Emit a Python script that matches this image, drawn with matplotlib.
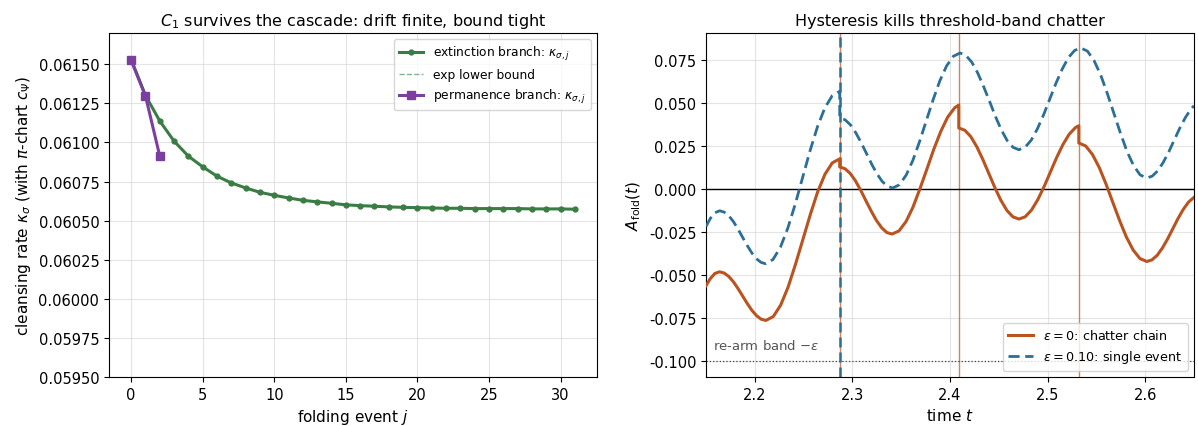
import numpy as np
import matplotlib
matplotlib.use("Agg")
import matplotlib.pyplot as plt
from matplotlib.ticker import FormatStrFormatter

# ---- left panel: cleansing rate per folding event ----
j_ext = list(range(32))
kappa_ext = [0.06153, 0.06130, 0.061137, 0.061008, 0.060912, 0.060844, 0.060784,
             0.060741, 0.060709, 0.060681, 0.060662, 0.060645, 0.060630, 0.060620,
             0.060611, 0.060601, 0.060596, 0.060592, 0.060588, 0.060585, 0.060583,
             0.060581, 0.060579, 0.060579, 0.060577, 0.060577, 0.060577, 0.060577,
             0.060575, 0.060575, 0.060575, 0.060573]
kappa_bound = kappa_ext
j_perm = [0, 1, 2]
kappa_perm = [0.061525, 0.061297, 0.060912]

# ---- right panel: fold amplitude over time ----
# eps = 0 (chatter chain); repeated times mark the resets
t_chat = [2.15, 2.1542, 2.159,
          2.1638, 2.1686, 2.1733, 2.1781, 2.1828, 2.1876, 2.1924, 2.1971, 2.2019, 2.2066,
          2.2114, 2.219, 2.2265, 2.2341, 2.2416, 2.2492, 2.2568, 2.2643, 2.2719, 2.2794, 2.287,
          2.287, 2.2924, 2.2977, 2.3031, 2.3084, 2.3138, 2.3192, 2.3245, 2.3299, 2.3352,
          2.3406, 2.3477, 2.3549, 2.362, 2.3692, 2.3763, 2.3834, 2.3906, 2.3977, 2.4049, 2.409,
          2.409, 2.4152, 2.4213, 2.4275, 2.4336, 2.4398, 2.446, 2.4521, 2.4583, 2.4644,
          2.4706, 2.477, 2.4835, 2.4899, 2.4964, 2.5028, 2.5092, 2.5157, 2.5221, 2.5286, 2.532,
          2.532, 2.539, 2.5459, 2.5529, 2.5598, 2.5668, 2.5738, 2.5807, 2.5877, 2.5946,
          2.6016, 2.6069, 2.6123, 2.6176, 2.623, 2.6283, 2.6336, 2.639, 2.6443, 2.65]
a_chat = [-0.0561, -0.0521, -0.0490,
          -0.0480, -0.0487, -0.0507, -0.0538, -0.0577, -0.0621, -0.0665, -0.0704, -0.0735, -0.0755,
          -0.0762, -0.0739, -0.0673, -0.0569, -0.0438, -0.0294, -0.0149, -0.0018, 0.0086, 0.0152, 0.0175,
          0.0128, 0.0118, 0.0091, 0.0048, -0.0006, -0.0067, -0.0127, -0.0181, -0.0224, -0.0252,
          -0.0261, -0.0243, -0.0189, -0.0106, 0.0002, 0.0115, 0.0231, 0.0335, 0.0418, 0.0472, 0.0487,
          0.0354, 0.0341, 0.0304, 0.0245, 0.0172, 0.0090, 0.0008, -0.0065, -0.0124, -0.0161,
          -0.0174, -0.0161, -0.0122, -0.0062, 0.0014, 0.0098, 0.0182, 0.0258, 0.0318, 0.0357, 0.0367,
          0.0267, 0.0250, 0.0201, 0.0125, 0.0030, -0.0077, -0.0183, -0.0278, -0.0354, -0.0403,
          -0.0420, -0.0411, -0.0384, -0.0342, -0.0289, -0.0230, -0.0171, -0.0118, -0.0076, -0.0048]

# eps = 0.10 (single event)
t_single = [2.15, 2.1546, 2.1593,
            2.164, 2.1687, 2.1734, 2.1781, 2.1828, 2.1875, 2.1922, 2.1969, 2.2016, 2.2063,
            2.211, 2.2186, 2.2262, 2.2338, 2.2414, 2.249, 2.2566, 2.2642, 2.2718, 2.2794, 2.287,
            2.287, 2.2924, 2.2979, 2.3033, 2.3087, 2.3142, 2.3196, 2.325, 2.3304, 2.3359,
            2.3413, 2.3482, 2.3551, 2.362, 2.3689, 2.3758, 2.3827, 2.3896, 2.3965, 2.4034,
            2.4103, 2.4163, 2.4224, 2.4284, 2.4344, 2.4405, 2.4465, 2.4525, 2.4585, 2.4646,
            2.4706, 2.4769, 2.4833, 2.4896, 2.496, 2.5023, 2.5086, 2.515, 2.5213, 2.5277,
            2.534, 2.5408, 2.5475, 2.5543, 2.561, 2.5678, 2.5746, 2.5813, 2.5881, 2.5948,
            2.6016, 2.6072, 2.6129, 2.6185, 2.6242, 2.6298, 2.6354, 2.6411, 2.6467, 2.65]
a_single = [-0.0217, -0.0169, -0.0137,
            -0.0126, -0.0134, -0.0155, -0.0189, -0.0232, -0.0280, -0.0327, -0.0370, -0.0404, -0.0425,
            -0.0433, -0.0409, -0.0338, -0.0227, -0.0088, 0.0067, 0.0222, 0.0361, 0.0471, 0.0542, 0.0567,
            0.0412, 0.0402, 0.0373, 0.0328, 0.0272, 0.0209, 0.0146, 0.0090, 0.0045, 0.0016,
            0.0006, 0.0025, 0.0081, 0.0167, 0.0277, 0.0398, 0.0518, 0.0628, 0.0714, 0.0770,
            0.0789, 0.0775, 0.0735, 0.0673, 0.0595, 0.0509, 0.0422, 0.0344, 0.0282, 0.0242,
            0.0228, 0.0242, 0.0284, 0.0350, 0.0432, 0.0523, 0.0614, 0.0696, 0.0762, 0.0804,
            0.0818, 0.0800, 0.0746, 0.0663, 0.0557, 0.0441, 0.0325, 0.0219, 0.0136, 0.0082,
            0.0064, 0.0075, 0.0106, 0.0155, 0.0216, 0.0285, 0.0353, 0.0414, 0.0463, 0.0483]

chatter_events = [2.287, 2.409, 2.532]
single_events = [2.287]
eps_band = 0.10

C_GREEN = "#3a7d44"
C_PURPLE = "#7b3fa0"
C_ORANGE = "#b9531f"
C_BLUE = "#2b6f96"

fig = plt.figure(figsize=(11.98, 4.27), dpi=100)
ax1 = fig.add_axes([109 / 1198, 1 - 378 / 427, 488 / 1198, 344 / 427])
ax2 = fig.add_axes([706 / 1198, 1 - 378 / 427, 488 / 1198, 344 / 427])

# left
ax1.plot(j_ext, kappa_bound, ls="--", color="#7fb58a", lw=1.0, label="exp lower bound", zorder=2)
ax1.plot(j_ext, kappa_ext, "-o", color=C_GREEN, lw=2.2, ms=3.5,
         label=r"extinction branch: $\kappa_{\sigma,j}$", zorder=3)
ax1.plot(j_perm, kappa_perm, "-s", color=C_PURPLE, lw=2.2, ms=5.5,
         label=r"permanence branch: $\kappa_{\sigma,j}$", zorder=4)
h, l = ax1.get_legend_handles_labels()
order = [1, 0, 2]
ax1.legend([h[i] for i in order], [l[i] for i in order], loc="upper right", fontsize=8.8)
ax1.set_ylim(0.0595, 0.0617)
ax1.set_yticks(np.arange(0.0595, 0.06151, 0.00025))
ax1.yaxis.set_major_formatter(FormatStrFormatter("%.5f"))
ax1.set_xticks([0, 5, 10, 15, 20, 25, 30])
ax1.grid(True, color="#d9d9d9", lw=0.8, alpha=0.7)
ax1.set_xlabel(r"folding event $j$", fontsize=11)
ax1.set_ylabel(r"cleansing rate $\kappa_\sigma$ (with $\pi$-chart $c_\Psi$)", fontsize=11)
ax1.set_title(r"$C_1$ survives the cascade: drift finite, bound tight", fontsize=11.5)
ax1.tick_params(labelsize=10.5)

# right
for te in chatter_events:
    ax2.axvline(te, color=C_ORANGE, lw=1.0, alpha=0.7, zorder=2)
for te in single_events:
    ax2.axvline(te, color=C_BLUE, lw=1.8, ls="--", dashes=(4, 2), zorder=2.2)
ax2.axhline(0, color="black", lw=1.0, zorder=2)
ax2.axhline(-eps_band, color="#444444", lw=0.9, ls=":", zorder=2)
ax2.plot(t_chat, a_chat, color=C_ORANGE, lw=2.2, label=r"$\varepsilon=0$: chatter chain", zorder=3)
ax2.plot(t_single, a_single, color=C_BLUE, lw=2.0, ls="--", dashes=(4, 2),
         label=r"$\varepsilon=0.10$: single event", zorder=3)
ax2.text(2.157, -0.093, r"re-arm band $-\varepsilon$", color="#555555", fontsize=9.5)
ax2.set_xlim(2.15, 2.65)
ax2.set_ylim(-0.109, 0.0905)
ax2.set_yticks([-0.1, -0.075, -0.05, -0.025, 0, 0.025, 0.05, 0.075])
ax2.yaxis.set_major_formatter(FormatStrFormatter("%.3f"))
ax2.grid(True, color="#d9d9d9", lw=0.8, alpha=0.7)
ax2.legend(loc="lower right", fontsize=9.2)
ax2.set_xlabel(r"time $t$", fontsize=11)
ax2.set_ylabel(r"$A_{\rm fold}(t)$", fontsize=11)
ax2.set_title("Hysteresis kills threshold-band chatter", fontsize=11.5)
ax2.tick_params(labelsize=10.5)

fig.savefig("out.png", dpi=100)
